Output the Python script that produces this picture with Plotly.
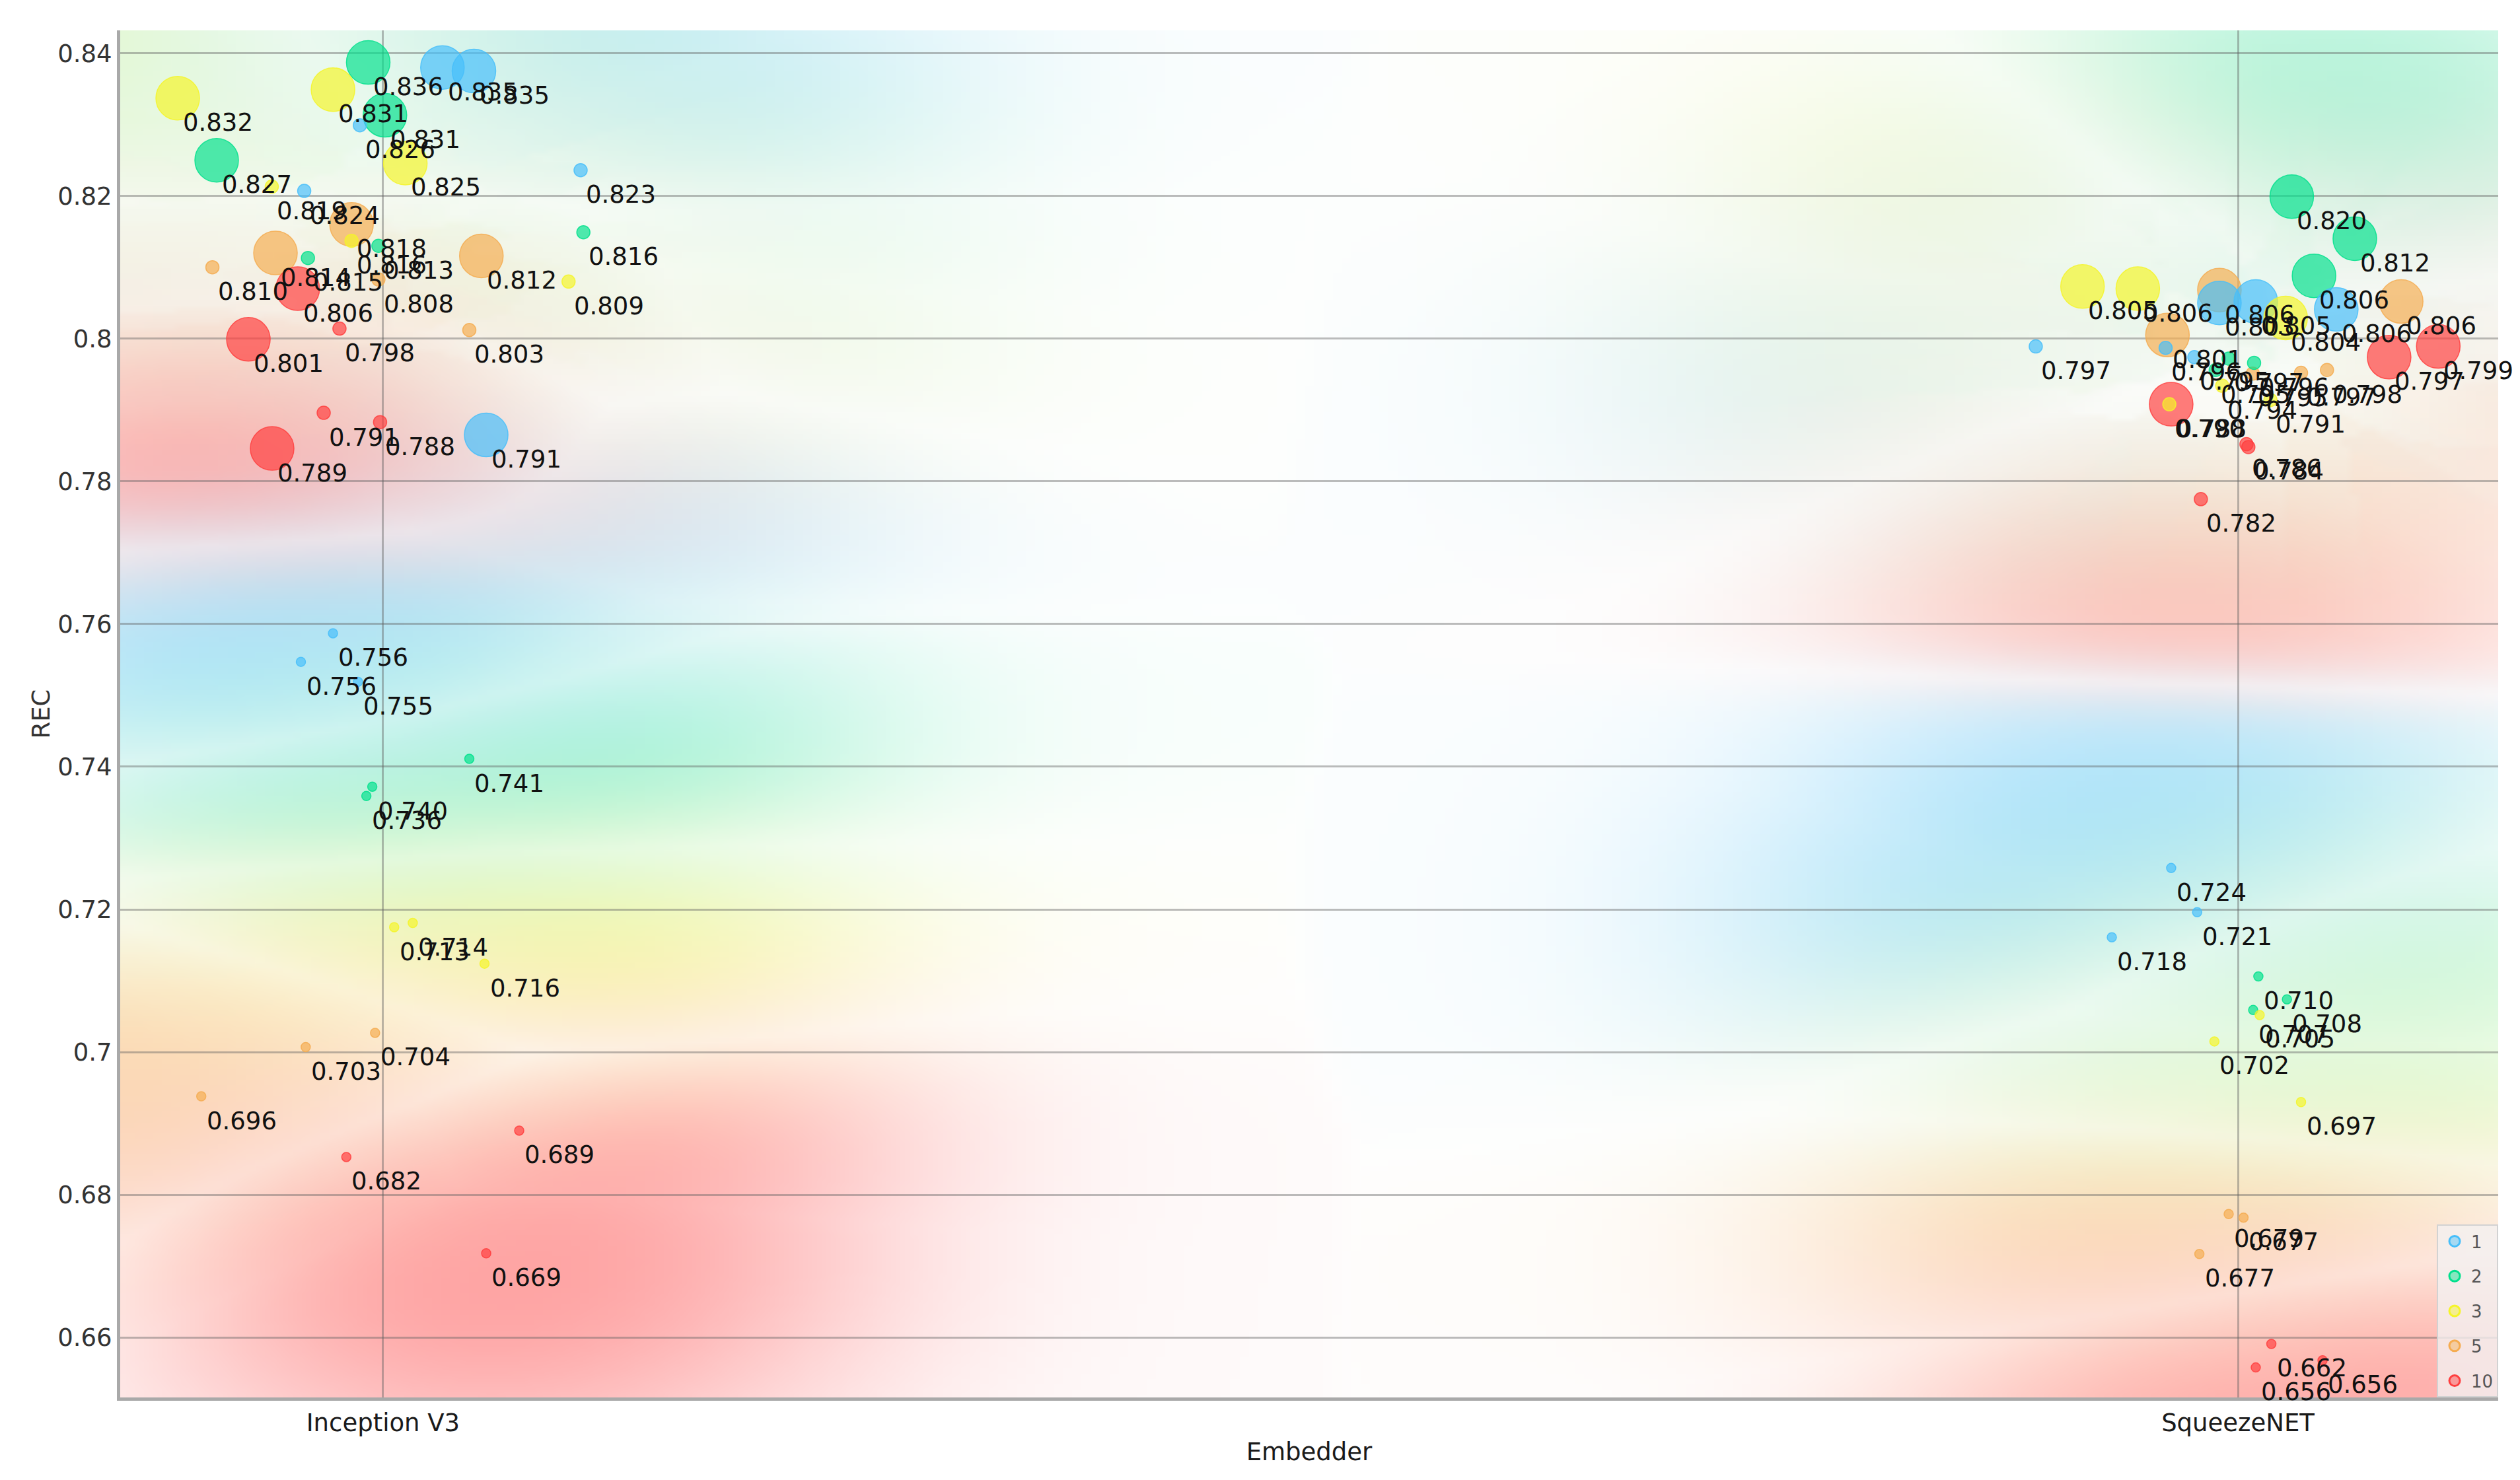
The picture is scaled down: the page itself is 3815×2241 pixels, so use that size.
import base64
import struct
import zlib

import numpy as np
import plotly.graph_objects as go

# ---------------------------------------------------------------- data
categories = ["Inception V3", "SqueezeNET"]
class_names = ["1", "2", "3", "5", "10"]

# one entry per point: embedder index, class, REC value (label), size level,
# horizontal jitter (category units) and vertical jitter (REC units)
embedder_idx = [0] * 45 + [1] * 45
klass = (["1"] * 9 + ["2"] * 9 + ["3"] * 9 + ["5"] * 9 + ["10"] * 9) * 2
rec = [
    # Inception V3
    0.835, 0.835, 0.791, 0.826, 0.824, 0.823, 0.756, 0.756, 0.755,
    0.836, 0.831, 0.827, 0.816, 0.815, 0.813, 0.741, 0.740, 0.736,
    0.832, 0.831, 0.825, 0.819, 0.816, 0.809, 0.713, 0.714, 0.716,
    0.818, 0.814, 0.812, 0.810, 0.808, 0.803, 0.704, 0.703, 0.696,
    0.806, 0.801, 0.789, 0.798, 0.791, 0.788, 0.689, 0.682, 0.669,
    # SqueezeNET
    0.803, 0.805, 0.806, 0.797, 0.796, 0.795, 0.724, 0.721, 0.718,
    0.820, 0.812, 0.806, 0.797, 0.796, 0.795, 0.710, 0.708, 0.707,
    0.805, 0.806, 0.804, 0.794, 0.791, 0.790, 0.705, 0.702, 0.697,
    0.806, 0.806, 0.801, 0.797, 0.798, 0.795, 0.679, 0.677, 0.677,
    0.797, 0.799, 0.788, 0.786, 0.784, 0.782, 0.662, 0.656, 0.656,
]
size_level = [3, 3, 3, 2, 2, 2, 1, 1, 1] * 10
x_jitter = [
    0.032, 0.049, 0.0556, -0.0125, -0.0425, 0.1065, -0.027, -0.0443, -0.0135,
    -0.008, 0.001, -0.0897, 0.108, -0.0405, -0.0025, 0.0465, -0.0058, -0.009,
    -0.1107, -0.027, 0.012, -0.060, -0.017, 0.100, 0.006, 0.016, 0.0547,
    -0.017, -0.058, 0.053, -0.092, -0.0025, 0.0465, -0.0043, -0.0417, -0.098,
    -0.046, -0.0726, -0.0598, -0.0235, -0.032, -0.0016, 0.0734, -0.0198, 0.0556,
    -0.010, 0.0096, 0.053, -0.109, -0.039, -0.0235, -0.036, -0.022, -0.068,
    0.029, 0.063, 0.041, -0.005, 0.0087, -0.012, 0.011, 0.0264, 0.0082,
    -0.0838, -0.054, 0.0257, -0.0085, 0.0175, -0.037, 0.0117, -0.0127, 0.034,
    -0.010, 0.088, -0.038, 0.034, 0.048, 0.008, -0.005, 0.003, -0.0208,
    0.0815, 0.108, -0.036, 0.0046, 0.0056, -0.020, 0.018, 0.0096, 0.0456,
]
y_jitter = [
    0.0030, 0.0025, -0.0045, 0.0039, -0.0033, 0.0006, 0.0027, -0.0013, -0.0031,
    0.0027, 0.0003, -0.0020, -0.0011, -0.0037, 0.0000, 0.0001, -0.0028, -0.0001,
    0.0017, 0.0039, -0.0004, 0.0023, -0.0023, -0.0010, 0.0045, 0.0041, -0.0036,
    -0.0020, -0.0020, -0.0004, 0.0000, 0.0003, -0.0018, -0.0013, -0.0023, -0.0022,
    0.0010, -0.0011, -0.0044, 0.0034, -0.0014, 0.0003, 0.0000, 0.0033, 0.0028,
    0.0020, 0.0002, -0.0019, 0.0019, 0.0027, 0.0024, 0.0018, -0.0014, -0.0019,
    -0.0001, 0.0020, 0.0028, 0.0002, 0.0006, 0.0006, 0.0006, -0.0006, -0.0011,
    0.0023, 0.0010, -0.0011, -0.0006, 0.0004, 0.0008, 0.0002, -0.0005, -0.0040,
    0.0008, -0.0008, -0.0005, -0.0018, -0.0024, 0.0001, -0.0017, -0.0002, -0.0053,
    0.0004, -0.0001, 0.0028, -0.0008, 0.0008, -0.0045, -0.0029, -0.0002, 0.0008,
]
y_ticks = [0.66, 0.68, 0.70, 0.72, 0.74, 0.76, 0.78, 0.80, 0.82, 0.84]
y_tick_text = ["0.66", "0.68", "0.7", "0.72", "0.74", "0.76", "0.78", "0.8", "0.82", "0.84"]

# ---------------------------------------------------------------- style
CLASS_RGB = {
    "1": (70, 190, 250),
    "2": (0, 224, 140),
    "3": (245, 245, 40),
    "5": (245, 172, 80),
    "10": (255, 62, 62),
}
SIZE_PX = {3: 66, 2: 20, 1: 14}
DRAW_ORDER = ["5", "2", "1", "3", "10"]
X_RANGE = (-0.1417, 1.1403)
Y_RANGE = (0.6516, 0.8432)
FONT = "DejaVu Sans"

x = np.array(embedder_idx, float) + np.array(x_jitter)
y = np.array(rec) + np.array(y_jitter)
kl = np.array(klass)
lv = np.array(size_level)


def rgba(c, a):
    return "rgba(%d,%d,%d,%.3f)" % (c[0], c[1], c[2], a)


# ---------------------------------------------------------------- class density background
def density_image(res=256, k=14, h=0.06):
    gx = np.linspace(0, 1, res)
    gy = np.linspace(0, 1, res)
    GX, GY = np.meshgrid(gx, gy)
    px = (x - X_RANGE[0]) / (X_RANGE[1] - X_RANGE[0])
    py = (y - Y_RANGE[0]) / (Y_RANGE[1] - Y_RANGE[0])
    d2 = (GX.ravel()[:, None] - px[None, :]) ** 2 + (GY.ravel()[:, None] - py[None, :]) ** 2
    idx = np.argpartition(d2, k - 1, axis=1)[:, :k]
    dk = np.take_along_axis(d2, idx, 1)
    ci = np.array([class_names.index(c) for c in klass])[idx]
    w = np.exp(-(dk - dk.min(1, keepdims=True)) / (2 * h * h))
    P = np.stack([(w * (ci == c)).sum(1) for c in range(len(class_names))], 1)
    P /= P.sum(1, keepdims=True)
    cols = np.array([CLASS_RGB[c] for c in class_names], float)
    rgb = P @ cols
    purity = np.clip((P.max(1) - 0.2) / 0.8, 0, 1)
    dmin = np.sqrt(dk.min(1))
    prox = 0.05 + 0.95 * np.exp(-(dmin / 0.165) ** 2.5)
    alpha = 0.48 * purity ** 0.7 * prox
    out = 255 - alpha[:, None] * (255 - rgb)
    img = out.reshape(res, res, 3)[::-1].clip(0, 255).astype(np.uint8)
    return img


def png_uri(arr):
    h, w, _ = arr.shape
    raw = b"".join(b"\x00" + arr[i].tobytes() for i in range(h))

    def chunk(t, d):
        return struct.pack(">I", len(d)) + t + d + struct.pack(">I", zlib.crc32(t + d) & 0xFFFFFFFF)

    png = (b"\x89PNG\r\n\x1a\n" + chunk(b"IHDR", struct.pack(">IIBBBBB", w, h, 8, 2, 0, 0, 0))
           + chunk(b"IDAT", zlib.compress(raw, 9)) + chunk(b"IEND", b""))
    return "data:image/png;base64," + base64.b64encode(png).decode()


fig = go.Figure()

for level in [3, 2, 1]:
    for c in DRAW_ORDER:
        m = (lv == level) & (kl == c)
        if not m.any():
            continue
        fig.add_trace(go.Scatter(
            x=x[m], y=y[m], mode="markers", showlegend=False, legendgroup=c,
            name=c, text=[f"{v:.3f}" for v in np.array(rec)[m]],
            hovertemplate="%{text}<extra>" + c + "</extra>",
            marker=dict(size=SIZE_PX[level], color=rgba(CLASS_RGB[c], 0.68),
                        line=dict(color=rgba(CLASS_RGB[c], 0.85), width=1.5)),
        ))

for c in class_names:
    fig.add_trace(go.Scatter(
        x=[None], y=[None], mode="markers", name=c, legendgroup=c, showlegend=True,
        marker=dict(size=16, color=rgba(CLASS_RGB[c], 0.45),
                    line=dict(color=rgba(CLASS_RGB[c], 1.0), width=3)),
    ))

for xi, yi, r in zip(x, y, rec):
    fig.add_annotation(x=xi, y=yi, text=f"{r:.3f}", showarrow=False,
                       xanchor="left", yanchor="middle", xshift=6, yshift=-37,
                       font=dict(family=FONT, size=37, color="#111"))

fig.add_layout_image(dict(
    source=png_uri(density_image()), xref="x", yref="y",
    x=X_RANGE[0], y=Y_RANGE[1], sizex=X_RANGE[1] - X_RANGE[0], sizey=Y_RANGE[1] - Y_RANGE[0],
    sizing="stretch", xanchor="left", yanchor="top", layer="below",
))

grid = "rgba(95,95,95,0.42)"
fig.update_layout(
    width=3815, height=2241,
    margin=dict(l=182, r=33, t=46, b=125),
    paper_bgcolor="white", plot_bgcolor="white",
    font=dict(family=FONT, size=37, color="#222"),
    xaxis=dict(range=list(X_RANGE), tickvals=[0, 1], ticktext=categories,
               showgrid=True, gridcolor=grid, gridwidth=3, zeroline=False,
               showline=True, linecolor="#a9a9a9", linewidth=5, ticks="",
               ticklabelstandoff=2, tickfont=dict(size=37, color="#1a1a1a"),
               title=dict(text="Embedder", standoff=11, font=dict(size=37, color="#1a1a1a"))),
    yaxis=dict(range=list(Y_RANGE), tickvals=y_ticks, ticktext=y_tick_text,
               showgrid=True, gridcolor=grid, gridwidth=3, zeroline=False,
               showline=True, linecolor="#a9a9a9", linewidth=5, ticks="",
               ticklabelstandoff=0, tickfont=dict(size=37, color="#333"),
               title=dict(text="REC", standoff=2, font=dict(size=37, color="#333"))),
    legend=dict(x=1, y=0, xanchor="right", yanchor="bottom", traceorder="grouped",
                tracegroupgap=16, bgcolor="rgba(242,240,240,0.8)", itemwidth=40,
                bordercolor="#d2d2d2", borderwidth=2,
                font=dict(family=FONT, size=26, color="#555"), itemsizing="trace"),
)

fig.write_html("out.html", config={"displayModeBar": False},
               post_script="document.body.style.margin='0';")
